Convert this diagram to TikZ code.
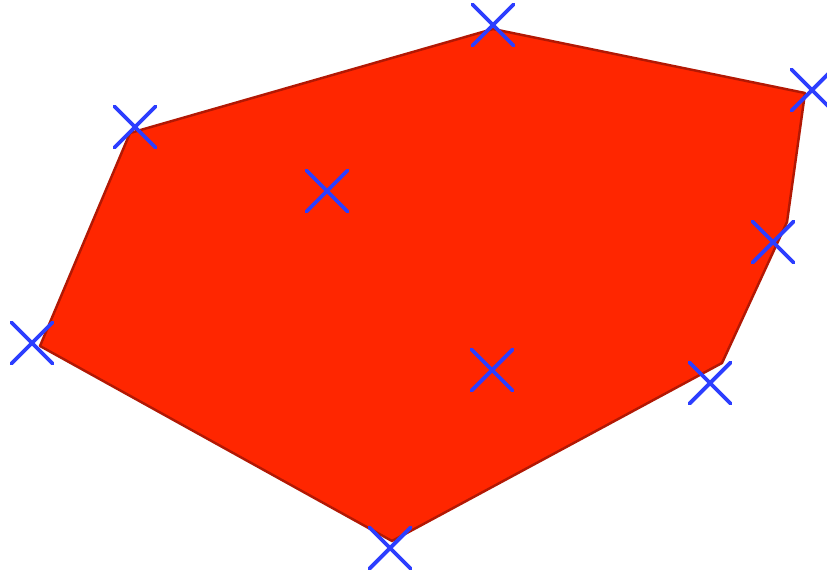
\documentclass[tikz,border=0pt]{standalone}
\usepackage{xcolor}
\usepackage{tikz}
\usetikzlibrary{shapes.misc}
\definecolor{hullred}{RGB}{255,38,0}
\definecolor{hulledge}{RGB}{178,24,4}
\definecolor{sampleblue}{RGB}{44,62,255}
\tikzset{
  hull/.style={draw=hulledge, fill=hullred, line width=1.4pt, line join=round},
  sample/.style={cross out, draw=sampleblue, line width=2.2pt, line cap=round, minimum size=0.74cm, inner sep=0pt}
}
\begin{document}
\begin{tikzpicture}[x=0.02cm, y=-0.02cm]
    \useasboundingbox (0,0) rectangle (827,572);
    % hull corners
    \coordinate (h1) at (130,133);
    \coordinate (h2) at (493,29);
    \coordinate (h3) at (805,93);
    \coordinate (h4) at (787,222);
    \coordinate (h5) at (722,363);
    \coordinate (h6) at (392,541);
    \coordinate (h7) at (40,346);
    \draw[hull] (h1) -- (h2) -- (h3) -- (h4) -- (h5) -- (h6) -- (h7) -- cycle;

    % sample points
    \foreach \name/\px/\py in {s1/135/127, s2/493/25, s3/812/90, s4/773/242, s5/710/383,
                               s6/390/548, s7/32/343, s8/327/191, s9/492/370}
        \node[sample] (\name) at (\px,\py) {};
\end{tikzpicture}
\end{document}
